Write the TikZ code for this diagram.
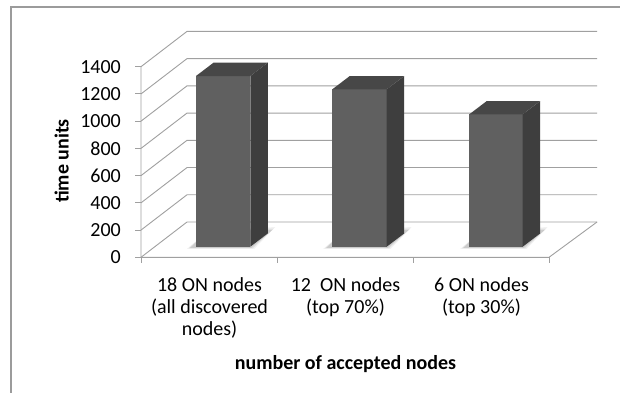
\documentclass[tikz,border=0pt]{standalone}
\usepackage{fontspec}
\setmainfont{Carlito}
\definecolor{gridc}{RGB}{160,160,160}
\definecolor{framec}{RGB}{155,155,155}
\definecolor{barfront}{RGB}{96,96,96}
\definecolor{bartop}{RGB}{71,71,71}
\definecolor{barside}{RGB}{62,62,62}
% one 3-D column: front-left x, front-right x, top y
\newcommand\colbar[3]{%
  \foreach \s/\o in {4/0.05,2.5/0.07,1/0.09}{%
    \fill[black,opacity=\o] (#1-5-\s,247.6+0.3*\s) -- (#2+\s,247.6+0.3*\s)
      -- (#2+21+\s,231-\s) -- (#1+12,231) -- cycle;
  }%
  \fill[barfront] (#1,#3) rectangle (#2,246.7);
  \fill[barside] (#2,#3) -- ++(17.5,-13.3) -- (#2+17.5,233.4) -- (#2,246.7) -- cycle;
  \fill[bartop] (#1,#3) -- ++(17.5,-13.3) -- ++(#2-#1,0) -- (#2,#3) -- cycle;
}
\begin{document}
\begin{tikzpicture}[x=1pt,y=-1pt,
  grid/.style={draw=gridc,line width=0.9pt},
  ylab/.style={anchor=east,inner sep=0pt,font=\fontsize{20}{24}\selectfont},
  catlab/.style={anchor=north,align=center,inner sep=0pt,font=\fontsize{20}{22}\selectfont},
  axtitle/.style={inner sep=0pt,font=\bfseries\fontsize{20}{24}\selectfont}]
\useasboundingbox (0,0) rectangle (620,392);
\fill[white] (0,0) rectangle (620,392);
% chart frame
\draw[framec,line width=1.3pt] (11,393) -- (11,7) -- (621,7);
% side wall, back wall and value ticks
\foreach \i in {0,...,7}{%
  \pgfmathsetmacro\yf{257.3-27.23*\i}
  \pgfmathsetmacro\yb{\yf-35.3}
  \pgfmathtruncatemacro\v{200*\i}
  \draw[grid] (141,\yf) -- (187,\yb) -- (597,\yb);
  \draw[grid] (135,\yf) -- (141,\yf);
  \node[ylab] (yl\i) at (121,\yf) {\v};
}
% floor and axes
\draw[grid] (141,66.7) -- (141,257.3) -- (549,257.3) -- (597,222);
\foreach \x in {141.5,277.7,413,549.5}{%
  \draw[grid] (\x,257.3) -- (\x,263);
}
% columns
\colbar{196}{250.3}{76}
\colbar{332.3}{386.7}{89.3}
\colbar{469.3}{522.7}{114.3}
% category labels
\node[catlab] (c1) at (209.5,277.6) {18 ON nodes\\(all discovered\\nodes)};
\node[catlab] (c2) at (345.5,277.6) {12~ ON nodes\\(top 70\%)};
\node[catlab] (c3) at (481.5,277.6) {6 ON nodes\\(top 30\%)};
% axis titles
\node[axtitle,anchor=base] (xt) at (345.5,369.3) {number of accepted nodes};
\node[axtitle,rotate=90] (yt) at (61.7,161) {time units};
\end{tikzpicture}
\end{document}
